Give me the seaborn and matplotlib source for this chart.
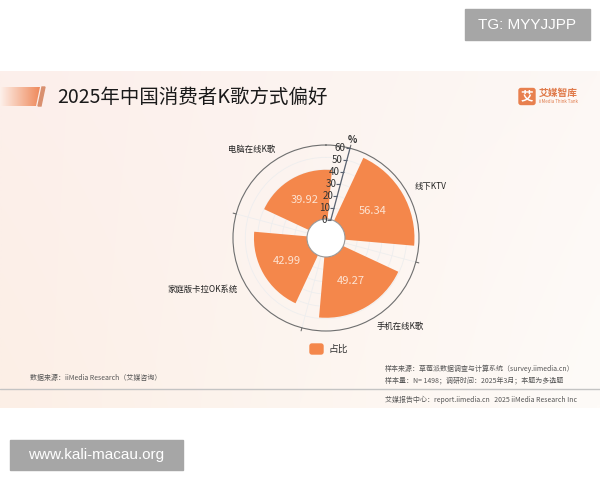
import numpy as np
import pandas as pd
import matplotlib
matplotlib.use("Agg")
import matplotlib.pyplot as plt
import seaborn as sns
from matplotlib.patches import Rectangle, Polygon, FancyBboxPatch, Circle
from matplotlib.colors import to_rgb
from matplotlib.transforms import offset_copy

# ---------------- data ----------------
categories = ["线下KTV", "手机在线K歌", "家庭版卡拉OK系统", "电脑在线K歌"]
values = [56.34, 49.27, 42.99, 39.92]
angles_deg = [60, 150, 240, 330]
r_ticks = [0, 10, 20, 30, 40, 50, 60]
series_name = "占比"
title = "2025年中国消费者K歌方式偏好"

sns.set_theme(style="white")
plt.rcParams["font.family"] = ["Noto Sans CJK SC", "DejaVu Sans"]

BAR = "#F4874B"

fig = plt.figure(figsize=(6, 4.8), dpi=100)
fig.patch.set_facecolor("white")

# background axes in image pixel coords
bg = fig.add_axes([0, 0, 1, 1], zorder=0)
bg.set_xlim(0, 600)
bg.set_ylim(480, 0)
bg.axis("off")

# panel gradient
tl, tr, bl, br = [np.array(to_rgb(c)) for c in ("#fcefeb", "#fdf8f5", "#fcefe6", "#fefbf8")]
ny, nx = 50, 120
u = np.linspace(0, 1, nx)[None, :, None]
v = np.linspace(0, 1, ny)[:, None, None]
grad = (1 - v) * ((1 - u) * tl + u * tr) + v * ((1 - u) * bl + u * br)
bg.imshow(grad, extent=[0, 600, 408, 71], aspect="auto", interpolation="bilinear", zorder=0)
bg.set_xlim(0, 600)
bg.set_ylim(480, 0)

# title ornament
c0, c1 = np.array(to_rgb("#fdf0ea")), np.array(to_rgb("#ef8a5c"))
g = np.linspace(0, 1, 60)[None, :, None]
orn = (1 - g) * c0 + g * c1
im = bg.imshow(orn, extent=[0, 40, 106, 87], aspect="auto", zorder=1)
clip = Polygon([(0, 87), (40, 87), (36, 106), (0, 106)], closed=True, transform=bg.transData)
im.set_clip_path(clip)
bg.add_patch(Polygon([(42, 87), (45, 87), (41, 106), (38, 106)], closed=True,
                     color="#d9906f", zorder=1))
bg.text(57, 97, title, fontsize=14, color="#1a1a1a", va="center", ha="left", zorder=2)

# logo
bg.add_patch(FancyBboxPatch((519, 88.5), 16, 16, boxstyle="round,pad=0,rounding_size=2",
                            color="#e8804e", zorder=2))
bg.text(527, 96.5, "艾", fontsize=9, color="white", ha="center", va="center",
        fontweight="bold", zorder=3)
bg.text(539, 93, "艾媒智库", fontsize=7, color="#e07a4a", ha="left", va="center",
        fontweight="bold", zorder=3)
bg.text(539, 101.5, "iiMedia Think Tank", fontsize=3.2, color="#e07a4a", ha="left",
        va="center", zorder=3)

# hole of polar chart
bg.add_patch(Circle((326, 238), 19, facecolor="white", edgecolor="none", zorder=1))

# legend
bg.add_patch(FancyBboxPatch((310, 344), 13, 10, boxstyle="round,pad=0,rounding_size=2",
                            color=BAR, zorder=2))
bg.text(328, 349, series_name, fontsize=7, color="#333333", ha="left", va="center", zorder=2)

# footer
fc = "#555555"
bg.text(30, 378, "数据来源：iiMedia Research（艾媒咨询）", fontsize=5, color=fc, va="center")
bg.text(385, 369, "样本来源：草莓派数据调查与计算系统（survey.iimedia.cn）", fontsize=5, color=fc, va="center")
bg.text(385, 380, "样本量：N= 1498；调研时间：2025年3月；本题为多选题", fontsize=5, color=fc, va="center")
bg.plot([0, 600], [389, 389], color="#c4c4c4", lw=1, zorder=2)
bg.text(385, 400, "艾媒报告中心：report.iimedia.cn   2025 iiMedia Research Inc", fontsize=5,
        color=fc, va="center")

# watermarks
bg.add_patch(Rectangle((465, 9), 125, 31, color="#a6a6a6", zorder=3))
bg.text(527.5, 25, "TG: MYYJJPP", fontsize=11, color="white", ha="center", va="center",
        family="Liberation Sans", zorder=4)
bg.add_patch(Rectangle((10, 440), 173, 30, color="#a6a6a6", zorder=3))
bg.text(96.5, 455.5, "www.kali-macau.org", fontsize=11, color="white", ha="center",
        va="center", family="Liberation Sans", zorder=4)

# ---------------- polar chart ----------------
ax = fig.add_axes([0.3883, 0.3104, 0.31, 0.3875], projection="polar", zorder=2)
ax.set_facecolor("none")
ax.set_theta_zero_location("N")
ax.set_theta_direction(-1)

df = pd.DataFrame({"theta": np.deg2rad(angles_deg), "value": values, "cat": categories})
sns.barplot(data=df, x="theta", y="value", native_scale=True, width=70 / 90,
            color=BAR, saturation=1, edgecolor="none", linewidth=0, ax=ax, zorder=2)

ax.set_xlim(0, 2 * np.pi)
ax.set_ylim(0, 60)
ax.set_rorigin(-15.4)
ax.set_xlabel("")
ax.set_ylabel("")

bounds = np.deg2rad([15, 105, 195, 285])
ax.set_xticks(bounds)
ax.set_xticklabels([])
ax.set_yticks(r_ticks)
ax.set_yticklabels([])
ax.grid(True, color="#eeeeee", lw=0.6)
ax.set_axisbelow(True)
for name, sp in ax.spines.items():
    sp.set_color("#6f6f6f")
    sp.set_linewidth(0.8)
ax.spines["inner"].set_color("#999999")

# outer ticks at category boundaries
for b in bounds:
    ax.plot([b, b], [60, 62.5], color="#6f6f6f", lw=0.8, clip_on=False)

# radial axis line at 15 deg
th = np.deg2rad(15)
ax.plot([th, th], [0, 60], color="#5a6270", lw=0.9, clip_on=False, zorder=3)
ax.plot([th] * len(r_ticks), r_ticks, ls="none", marker=0, ms=3, mew=0.8,
        color="#5a6270", clip_on=False, zorder=3)
tr_off = offset_copy(ax.transData, fig=fig, x=-3, y=0, units="points")
for r in r_ticks:
    ax.text(th, r, str(r), transform=tr_off, ha="right", va="center", fontsize=7,
            color="#333333", zorder=4)
ax.text(th, 67, "%", ha="center", va="center", fontsize=7, color="#333333",
        fontweight="bold", clip_on=False)

# value labels
for a, v in zip(angles_deg, values):
    ax.text(np.deg2rad(a), v / 2, f"{v:.2f}", ha="center", va="center", fontsize=8,
            color="#fde3d2", zorder=4)

# category labels
for a, c in zip(angles_deg, categories):
    ha = "left" if a < 180 else "right"
    ax.text(np.deg2rad(a), 67.5, c, ha=ha, va="center", fontsize=6, color="#222222",
            clip_on=False, zorder=4)

if ax.get_legend() is not None:
    ax.get_legend().remove()

fig.savefig("out.png", dpi=100)
